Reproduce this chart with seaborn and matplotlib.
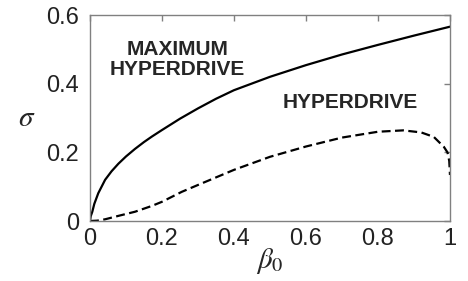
import numpy as np
import matplotlib
matplotlib.use("Agg")
import matplotlib.pyplot as plt
import seaborn as sns

# values
beta_max = [0.0, 0.002, 0.0064, 0.012, 0.023, 0.042, 0.06, 0.079, 0.1, 0.125,
            0.15, 0.172, 0.2, 0.25, 0.3, 0.35, 0.4, 0.5, 0.6, 0.7, 0.8, 0.9,
            1.0]
sigma_max = [0.0, 0.014, 0.027, 0.05, 0.081, 0.12, 0.145, 0.167, 0.188, 0.21,
             0.23, 0.246, 0.265, 0.298, 0.328, 0.356, 0.381, 0.42, 0.454,
             0.485, 0.513, 0.54, 0.566]

beta_hyp = [0.0, 0.02, 0.042, 0.079, 0.125, 0.172, 0.2, 0.255, 0.3, 0.4, 0.5,
            0.6, 0.7, 0.8, 0.87, 0.92, 0.955, 0.983, 0.993, 0.998, 1.0]
sigma_hyp = [0.0, 0.001, 0.005, 0.015, 0.027, 0.044, 0.056, 0.085, 0.105,
             0.149, 0.187, 0.217, 0.243, 0.26, 0.264, 0.258, 0.245, 0.216,
             0.2, 0.175, 0.134]

x_ticks = [0, 0.2, 0.4, 0.6, 0.8, 1]
x_tick_labels = ["0", "0.2", "0.4", "0.6", "0.8", "1"]
y_ticks = [0, 0.2, 0.4, 0.6]
y_tick_labels = ["0", "0.2", "0.4", "0.6"]

sns.set_style("white")
plt.rcParams["font.family"] = ["Liberation Sans", "DejaVu Sans"]
plt.rcParams["mathtext.fontset"] = "stix"

fig = plt.figure(figsize=(4.68, 2.81), dpi=100)
ax = fig.add_axes([0.1923, 0.2135, 0.7692, 0.7331])

sns.lineplot(x=beta_max, y=sigma_max, ax=ax, color="black", linewidth=1.6,
             estimator=None, sort=False)
sns.lineplot(x=beta_hyp, y=sigma_hyp, ax=ax, color="black", linewidth=1.6,
             linestyle=(0, (4, 2)), estimator=None, sort=False)

ax.set_xlim(0, 1)
ax.set_ylim(0, 0.6)
ax.set_xticks(x_ticks)
ax.set_xticklabels(x_tick_labels)
ax.set_yticks(y_ticks)
ax.set_yticklabels(y_tick_labels)

for s in ax.spines.values():
    s.set_color("#808080")
    s.set_linewidth(1.0)
ax.tick_params(direction="in", length=4, width=1, color="#808080",
               top=True, right=True, labelsize=17, colors="#808080",
               labelcolor="#222222")
ax.tick_params(axis="x", pad=5)
ax.tick_params(axis="y", pad=8)

ax.set_xlabel(r"$\beta_0$", fontsize=21, labelpad=-3)
ax.set_ylabel(r"$\sigma$", fontsize=21, rotation=0, labelpad=14, va="center")

ax.text(0.242, 0.47, "MAXIMUM\nHYPERDRIVE", fontsize=15, fontweight="bold",
        ha="center", va="center", linespacing=1.1)
ax.text(0.724, 0.344, "HYPERDRIVE", fontsize=15, fontweight="bold",
        ha="center", va="center")

fig.savefig("out.png", dpi=100)
